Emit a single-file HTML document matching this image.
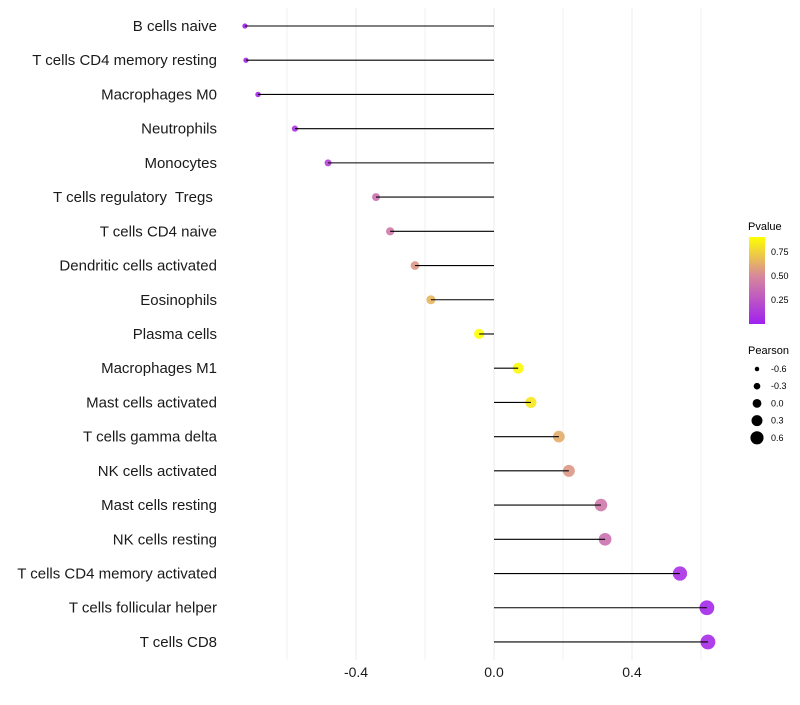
<!DOCTYPE html>
<html><head><meta charset="utf-8"><style>
body{margin:0;background:#fff;}
svg text{font-family:"Liberation Sans",sans-serif;white-space:pre;}
</style></head><body>
<svg id="chart" width="800" height="700">
<defs><linearGradient id="pg" x1="0" y1="1" x2="0" y2="0">
<stop offset="0" stop-color="#a020f0"/><stop offset="0.55" stop-color="#d7889b"/><stop offset="1" stop-color="#ffff00"/></linearGradient></defs>
<g id="grid"></g><g id="marks"></g><g id="labels"></g><g id="ticks"></g>
<g>
<text x="748" y="230" font-size="11" fill="#000">Pvalue</text>
<rect x="749" y="237" width="16" height="87" fill="url(#pg)"/>
<text x="771" y="255" font-size="9" fill="#000">0.75</text>
<text x="771" y="279" font-size="9" fill="#000">0.50</text>
<text x="771" y="303" font-size="9" fill="#000">0.25</text>
</g>
<g id="sizeLegend">
<text x="748" y="354" font-size="11" fill="#000">Pearson</text>
</g>
</svg>
<script>
const categories=["B cells naive","T cells CD4 memory resting","Macrophages M0","Neutrophils","Monocytes","T cells regulatory  Tregs ","T cells CD4 naive","Dendritic cells activated","Eosinophils","Plasma cells","Macrophages M1","Mast cells activated","T cells gamma delta","NK cells activated","Mast cells resting","NK cells resting","T cells CD4 memory activated","T cells follicular helper","T cells CD8"];
const pearson=[-0.722,-0.719,-0.684,-0.577,-0.481,-0.342,-0.301,-0.229,-0.183,-0.043,0.070,0.107,0.188,0.217,0.310,0.322,0.539,0.617,0.620];
const pvalue=[0.02,0.02,0.03,0.10,0.15,0.38,0.42,0.55,0.65,0.90,0.88,0.82,0.62,0.55,0.42,0.38,0.08,0.04,0.05];
const xTicks=[-0.4,0.0,0.4];
const xTickLabels=["-0.4","0.0","0.4"];
const gridVals=[-0.6,-0.2,0.2,0.6];
const legendSizes=[-0.6,-0.3,0.0,0.3,0.6];
const legendSizeLabels=["-0.6","-0.3","0.0","0.3","0.6"];
const NS="http://www.w3.org/2000/svg";
const xs=v=>494+v*345;
const ys=i=>26+i*34.22;
const rs=p=>5.2+3.6*p;
function lerp(a,b,t){return a.map((v,i)=>Math.round(v+(b[i]-v)*t));}
function col(p){const t=Math.max(0,Math.min(1,p/0.9));const c0=[160,32,240],c1=[215,136,155],c2=[255,255,0];
const c=t<0.55?lerp(c0,c1,t/0.55):lerp(c1,c2,(t-0.55)/0.45);return `rgb(${c})`;}
function mk(tag,attrs,parent){const e=document.createElementNS(NS,tag);for(const k in attrs)e.setAttribute(k,attrs[k]);parent.appendChild(e);return e;}
const grid=document.getElementById('grid'),marks=document.getElementById('marks'),labels=document.getElementById('labels'),ticks=document.getElementById('ticks'),sl=document.getElementById('sizeLegend');
gridVals.concat(xTicks).forEach(v=>{const l=mk('line',{x1:xs(v),x2:xs(v),y1:8,y2:660,stroke:xTicks.includes(v)?'#ebebeb':'#f2f2f2','stroke-width':1},grid);

});
categories.forEach((c,i)=>{const y=ys(i);
const ci=mk('circle',{cx:xs(pearson[i]),cy:y,r:rs(pearson[i]),fill:col(pvalue[i]),'fill-opacity':0.9},marks);


const ln=mk('line',{x1:xs(0),x2:xs(pearson[i]),y1:y,y2:y,stroke:'#000','stroke-width':1.1},marks);


const t=mk('text',{x:217,y:y+5,'text-anchor':'end','font-size':15,fill:'#1a1a1a'},labels);t.textContent=c;

});
xTicks.forEach((v,i)=>{const t=mk('text',{x:xs(v),y:677,'text-anchor':'middle','font-size':14,fill:'#1a1a1a'},ticks);t.textContent=xTickLabels[i];

});
legendSizes.forEach((v,i)=>{const y=369+i*17.2;
const c=mk('circle',{cx:757,cy:y,r:rs(v)-0.8,fill:'#000'},sl);


const t=mk('text',{x:771,y:y+3,'font-size':9,fill:'#000'},sl);t.textContent=legendSizeLabels[i];

});
</script>
</body></html>
